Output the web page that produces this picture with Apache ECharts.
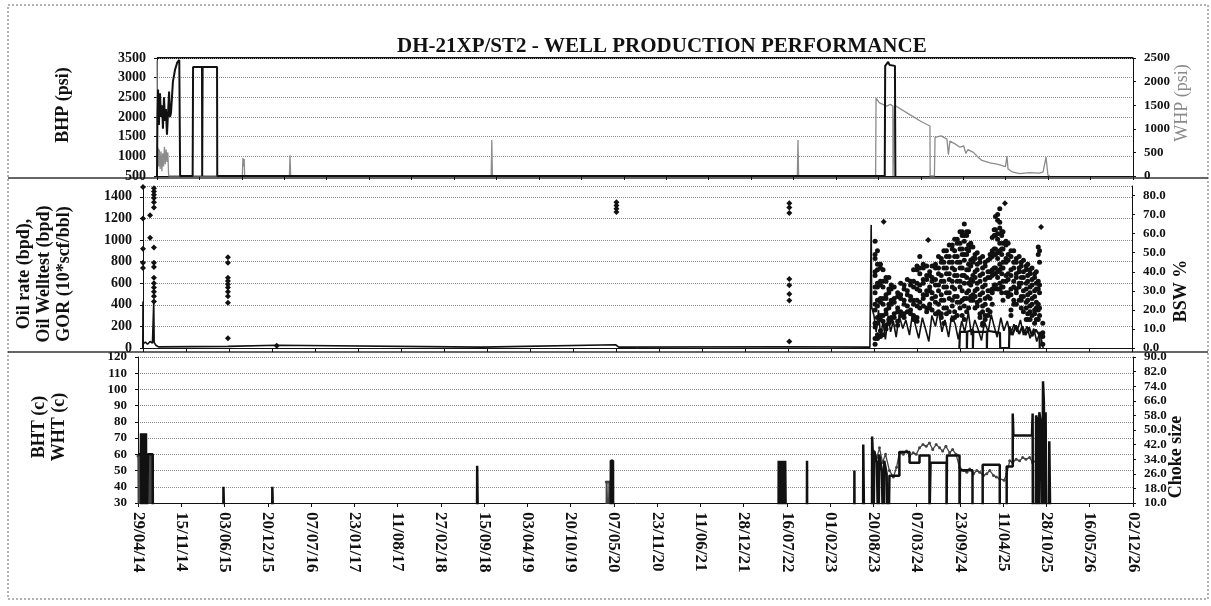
<!DOCTYPE html>
<html>
<head>
<meta charset="utf-8">
<title>DH-21XP/ST2 - WELL PRODUCTION PERFORMANCE</title>
<script src="https://cdn.jsdelivr.net/npm/echarts@6/dist/echarts.min.js"></script>
<style>
  html, body { margin: 0; padding: 0; background: #fff; }
  #main { width: 1211px; height: 606px; }
</style>
</head>
<body>
<div id="main"></div>
<script>
// ---- x axis: dates, one tick every 200 days from 29/04/14 ----
var startDate = '2014-04-29';
var tickDays = 200;
var endDays = 4600;

// ---- top panel: BHP (psi, left) and WHP (psi, right) ----
var bhpData = [
  ['2014-04-29', 500], ['2014-05-01', 2000], ['2014-05-04', 2700], ['2014-05-08', 1800], ['2014-05-13', 2600],
  ['2014-05-18', 2000], ['2014-05-23', 2300], ['2014-05-27', 1700], ['2014-06-01', 2500], ['2014-06-06', 1900],
  ['2014-06-10', 2200], ['2014-06-15', 1550], ['2014-06-20', 2100], ['2014-06-25', 2650], ['2014-06-29', 2000],
  ['2014-07-04', 2100], ['2014-07-09', 2050], ['2014-07-13', 2900], ['2014-07-23', 3200], ['2014-08-02', 3380],
  ['2014-08-12', 3450], ['2014-08-15', 3480], ['2014-08-16', 500], ['2014-10-14', 500], ['2014-10-16', 3270],
  ['2014-11-27', 3270], ['2014-11-28', 500], ['2014-11-30', 3270], ['2015-02-06', 3270], ['2015-02-07', 500],
  ['2023-09-19', 500], ['2023-09-21', 3300], ['2023-10-05', 3400], ['2023-10-12', 3320], ['2023-11-06', 3300],
  ['2023-11-08', 500]
];
var whpData = [
  ['2014-04-29', 2450], ['2014-05-01', 300], ['2014-05-04', 600], ['2014-05-07', 200], ['2014-05-10', 560],
  ['2014-05-14', 150], ['2014-05-18', 520], ['2014-05-22', 100], ['2014-05-26', 480], ['2014-05-30', 200],
  ['2014-06-03', 620], ['2014-06-07', 250], ['2014-06-11', 560], ['2014-06-15', 300], ['2014-06-19', 500],
  ['2014-06-23', 0],
  ['2015-06-05', 0], ['2015-06-08', 380], ['2015-06-11', 200], ['2015-06-14', 360], ['2015-06-16', 0],
  ['2016-01-13', 0], ['2016-01-16', 440], ['2016-01-19', 0],
  ['2018-08-21', 0], ['2018-08-24', 760], ['2018-08-27', 0],
  ['2022-08-03', 0], ['2022-08-06', 760], ['2022-08-09', 0],
  ['2023-08-07', 0], ['2023-08-09', 1650], ['2023-08-25', 1550], ['2023-09-29', 1480], ['2023-10-15', 1520],
  ['2023-10-27', 1480], ['2023-10-28', 0], ['2023-11-02', 0], ['2023-11-04', 1500], ['2024-01-15', 1300],
  ['2024-03-10', 1150], ['2024-04-19', 1060], ['2024-04-20', 0], ['2024-05-10', 0], ['2024-05-13', 820],
  ['2024-06-10', 850], ['2024-07-08', 780], ['2024-07-15', 450], ['2024-07-22', 740], ['2024-08-15', 680],
  ['2024-09-08', 610], ['2024-09-25', 640], ['2024-10-05', 480], ['2024-10-15', 560], ['2024-11-10', 500],
  ['2024-11-27', 420], ['2024-12-20', 330], ['2025-01-27', 280], ['2025-03-01', 250], ['2025-04-10', 200],
  ['2025-04-17', 420], ['2025-04-22', 150], ['2025-05-15', 80], ['2025-06-17', 50], ['2025-08-01', 70],
  ['2025-09-15', 60], ['2025-10-04', 80], ['2025-10-18', 400], ['2025-10-27', 20], ['2025-11-05', 0]
];

// ---- middle panel: oil rate, oil welltest, GOR (left) and BSW % (right) ----
var oilRateData = [
  ['2014-04-28', 0], ['2014-04-29', 430], ['2014-04-30', 40], ['2014-05-10', 55], ['2014-05-20', 35],
  ['2014-06-01', 60], ['2014-06-12', 45], ['2014-06-18', 430], ['2014-06-20', 50], ['2014-06-28', 25],
  ['2014-07-10', 10], ['2015-05-29', 15], ['2016-01-11', 25], ['2016-01-20', 8], ['2018-08-20', 8],
  ['2020-05-05', 30], ['2020-05-12', 25], ['2020-05-20', 8], ['2022-07-20', 12], ['2023-08-01', 8],
  ['2023-08-07', 1140], ['2023-08-09', 380], ['2023-08-20', 300], ['2023-08-30', 150], ['2023-09-10', 350],
  ['2023-09-20', 100], ['2023-10-01', 250], ['2023-10-12', 80], ['2023-10-25', 300], ['2023-11-05', 150],
  ['2023-11-18', 250], ['2023-12-01', 100], ['2023-12-15', 300], ['2024-01-01', 180], ['2024-01-15', 260],
  ['2024-02-01', 120], ['2024-02-15', 320], ['2024-03-01', 200], ['2024-03-15', 90], ['2024-04-01', 280],
  ['2024-04-15', 180], ['2024-05-01', 60], ['2024-05-15', 300], ['2024-06-01', 200], ['2024-06-15', 350],
  ['2024-07-01', 150], ['2024-07-15', 260], ['2024-08-01', 100], ['2024-08-15', 300], ['2024-09-01', 220],
  ['2024-09-15', 80], ['2024-10-01', 250], ['2024-10-15', 150], ['2024-11-01', 330], ['2024-11-15', 120],
  ['2024-12-01', 260], ['2024-12-15', 180], ['2025-01-01', 70], ['2025-01-15', 240], ['2025-02-01', 150],
  ['2025-02-15', 310], ['2025-03-01', 200], ['2025-03-15', 100], ['2025-04-01', 280], ['2025-04-15', 160],
  ['2025-05-01', 250], ['2025-05-15', 120], ['2025-06-01', 220], ['2025-06-15', 150], ['2025-07-01', 260],
  ['2025-07-15', 120], ['2025-08-01', 200], ['2025-08-15', 90], ['2025-09-01', 180], ['2025-09-15', 60],
  ['2025-10-01', 150], ['2025-10-10', 40], ['2025-10-15', 0]
];
var oilWelltestData = [
  ['2024-09-20', 0], ['2024-09-23', 150], ['2024-10-25', 150], ['2024-10-25', 0], ['2024-10-27', 150],
  ['2024-11-22', 170], ['2024-11-22', 0], ['2024-11-24', 150], ['2025-01-26', 150], ['2025-01-26', 0],
  ['2025-01-28', 160], ['2025-03-28', 140], ['2025-03-29', 0], ['2025-05-09', 0], ['2025-05-11', 200],
  ['2025-05-25', 120], ['2025-06-10', 210], ['2025-06-25', 130], ['2025-07-10', 200], ['2025-07-25', 120],
  ['2025-08-10', 190], ['2025-08-25', 110], ['2025-09-10', 170], ['2025-09-28', 120], ['2025-09-29', 0]
];
// GOR readings, grouped by date
var gorData = [
  ['2014-04-29', [1490, 1200, 920, 790, 740]],
  ['2014-06-01', [1230, 1020]],
  ['2014-06-19', [1480, 1450, 1420, 1390, 1350, 1300, 930, 790, 750, 650, 600, 560, 520, 480, 430]],
  ['2015-05-29', [840, 790, 650, 620, 590, 560, 520, 480, 420, 90]],
  ['2016-01-11', [20]],
  ['2020-05-09', [1350, 1320, 1290, 1260]],
  ['2022-07-22', [1340, 1300, 1250, 640, 580, 500, 440, 60]],
  ['2023-10-04', [1170]],
  ['2024-04-28', [1000]],
  ['2025-04-20', [1340]],
  ['2025-10-05', [1120]]
];
// BSW % readings, grouped by date
var bswData = [
  ['2023-08-25', [56, 49, 47, 40, 38, 32, 29, 23, 20, 13, 11, 5, 2]],
  ['2023-09-05', [51, 44, 41, 34, 32, 25, 22, 16, 13, 7, 5]],
  ['2023-09-19', [44, 42, 35, 33, 26, 24, 17, 15, 9, 6]],
  ['2023-10-01', [41, 35, 32, 26, 23, 17, 14, 7]],
  ['2023-10-15', [37, 35, 28, 26, 20, 18, 12, 10]],
  ['2023-10-28', [37, 31, 29, 23, 21, 15, 13]],
  ['2023-11-08', [33, 31, 25, 23, 16, 14]],
  ['2023-11-22', [32, 26, 24, 18, 16]],
  ['2023-12-08', [29, 27, 21, 19, 14, 12]],
  ['2023-12-22', [34, 28, 26, 19, 17]],
  ['2024-01-07', [33, 31, 25, 23, 18, 16]],
  ['2024-01-22', [36, 30, 28, 22, 19]],
  ['2024-02-06', [35, 33, 27, 25, 20, 18]],
  ['2024-02-20', [41, 35, 32, 25, 23, 17, 15]],
  ['2024-03-07', [43, 41, 34, 31, 25, 22, 16, 14]],
  ['2024-03-20', [48, 42, 39, 33, 30, 24, 21]],
  ['2024-04-05', [44, 42, 36, 34, 28, 26, 22]],
  ['2024-04-21', [43, 38, 36, 30, 28, 21, 19]],
  ['2024-05-05', [40, 38, 32, 30, 23, 21]],
  ['2024-05-16', [43, 37, 35, 29, 26, 20]],
  ['2024-06-01', [44, 42, 36, 33, 27, 24, 18]],
  ['2024-06-15', [48, 42, 39, 33, 30, 23, 19]],
  ['2024-06-28', [47, 45, 38, 35, 28, 25, 18, 16]],
  ['2024-07-10', [51, 45, 42, 35, 32, 25, 21, 13]],
  ['2024-07-22', [51, 48, 42, 39, 32, 29, 21, 18]],
  ['2024-08-04', [54, 48, 45, 39, 36, 29, 26, 19]],
  ['2024-08-18', [54, 52, 45, 42, 35, 32, 25, 22, 15]],
  ['2024-08-29', [57, 51, 48, 41, 38, 31, 27, 19, 16]],
  ['2024-09-10', [57, 55, 48, 45, 38, 35, 27, 24, 17]],
  ['2024-09-23', [61, 55, 52, 45, 42, 35, 32, 24, 21]],
  ['2024-10-03', [61, 59, 52, 49, 42, 38, 30, 25, 17]],
  ['2024-10-13', [65, 59, 56, 49, 46, 38, 34, 26, 22, 15]],
  ['2024-10-24', [61, 59, 52, 49, 41, 37, 29, 26, 19]],
  ['2024-11-02', [61, 54, 51, 44, 41, 34, 30, 21]],
  ['2024-11-12', [55, 53, 46, 43, 36, 33, 27, 25]],
  ['2024-11-22', [53, 47, 45, 38, 35, 28, 25]],
  ['2024-12-02', [49, 47, 40, 37, 30, 27, 21]],
  ['2024-12-12', [50, 44, 41, 34, 31, 24, 22]],
  ['2024-12-25', [47, 45, 38, 35, 28, 25, 18, 16]],
  ['2025-01-06', [48, 42, 39, 32, 29, 22, 19, 13, 12]],
  ['2025-01-18', [45, 43, 36, 33, 26, 23, 17, 15]],
  ['2025-01-31', [46, 40, 37, 30, 27, 20, 17]],
  ['2025-02-10', [49, 47, 40, 37, 30, 26, 19]],
  ['2025-02-20', [58, 51, 48, 41, 38, 31, 29, 23]],
  ['2025-03-01', [62, 59, 52, 49, 42, 39, 33, 31]],
  ['2025-03-07', [69, 62, 59, 52, 49, 42, 39, 33]],
  ['2025-03-17', [70, 67, 60, 57, 50, 47, 40, 37, 31]],
  ['2025-03-27', [73, 66, 63, 55, 51, 44, 41, 34, 31]],
  ['2025-04-05', [61, 59, 52, 49, 42, 39, 32, 29]],
  ['2025-04-11', [61, 55, 52, 45, 42, 35, 32, 25]],
  ['2025-04-25', [56, 54, 47, 45, 38, 35, 29]],
  ['2025-05-05', [55, 49, 46, 39, 36, 29, 27]],
  ['2025-05-18', [51, 48, 41, 38, 31, 28, 20, 17]],
  ['2025-05-31', [51, 45, 42, 35, 32, 25, 23]],
  ['2025-06-12', [47, 45, 39, 37, 31, 29, 23]],
  ['2025-06-25', [48, 42, 40, 34, 32, 25]],
  ['2025-07-05', [45, 43, 37, 34, 27, 25, 21]],
  ['2025-07-15', [46, 40, 37, 30, 27, 19]],
  ['2025-07-28', [43, 41, 34, 31, 24, 21, 15]],
  ['2025-08-04', [44, 38, 35, 28, 25, 18, 15]],
  ['2025-08-15', [41, 39, 32, 29, 22, 19, 15]],
  ['2025-08-24', [42, 36, 33, 26, 23, 17]],
  ['2025-09-05', [39, 37, 30, 27, 20, 18, 13]],
  ['2025-09-13', [40, 34, 31, 24, 21, 15]],
  ['2025-09-22', [53, 49, 35, 31, 23, 20, 15]],
  ['2025-09-28', [51, 45, 33, 29, 21, 17]],
  ['2025-10-13', [13, 8, 6, 2]]
];

// ---- bottom panel: BHT / WHT (c, left) and choke size (right) ----
var bhtData = [
  ['2014-04-29', 60], ['2014-05-12', 60], ['2014-05-13', 73], ['2014-05-16', 0], ['2014-05-19', 73],
  ['2014-05-22', 0], ['2014-05-25', 73], ['2014-05-28', 0], ['2014-05-31', 73], ['2014-06-03', 0],
  ['2014-06-05', 73], ['2014-06-06', 0], ['2014-06-13', 0], ['2014-06-14', 60], ['2014-07-06', 60],
  ['2014-07-07', 0],
  ['2015-05-28', 0], ['2015-05-29', 40], ['2015-06-04', 40], ['2015-06-05', 0],
  ['2016-01-09', 0], ['2016-01-10', 40], ['2016-01-16', 40], ['2016-01-17', 0],
  ['2018-08-13', 0], ['2018-08-14', 53], ['2018-08-18', 53], ['2018-08-19', 0],
  ['2020-04-22', 0], ['2020-04-23', 56], ['2020-05-03', 56], ['2020-05-04', 0],
  ['2022-06-07', 0], ['2022-06-08', 56], ['2022-06-12', 0], ['2022-06-14', 56], ['2022-06-20', 0],
  ['2022-06-22', 56], ['2022-06-28', 0], ['2022-06-30', 56], ['2022-07-06', 0], ['2022-07-08', 56],
  ['2022-07-11', 56], ['2022-07-12', 0],
  ['2022-10-16', 0], ['2022-10-17', 56], ['2022-10-18', 0],
  ['2023-05-23', 0], ['2023-05-24', 50], ['2023-05-25', 0],
  ['2023-07-03', 0], ['2023-07-04', 66], ['2023-07-08', 66], ['2023-07-09', 0],
  ['2023-08-13', 0], ['2023-08-14', 71], ['2023-08-17', 60], ['2023-08-20', 0], ['2023-08-24', 62],
  ['2023-09-05', 55], ['2023-09-12', 0], ['2023-09-16', 60], ['2023-09-28', 50], ['2023-10-05', 0],
  ['2023-10-09', 56], ['2023-10-20', 48], ['2023-10-24', 0],
  ['2025-09-08', 0], ['2025-09-10', 84], ['2025-09-18', 80], ['2025-09-22', 0], ['2025-09-25', 86],
  ['2025-10-03', 78], ['2025-10-08', 0], ['2025-10-12', 105], ['2025-10-16', 92], ['2025-10-20', 0],
  ['2025-10-24', 86], ['2025-10-28', 0], ['2025-11-08', 0], ['2025-11-10', 68], ['2025-11-14', 68],
  ['2025-11-16', 0]
];
var whtData = [
  ['2014-04-29', 59], ['2014-05-01', 0], ['2014-05-03', 59], ['2014-05-05', 0], ['2014-05-07', 59],
  ['2014-05-09', 0], ['2014-05-11', 59], ['2014-05-12', 0],
  ['2014-06-14', 59], ['2014-06-16', 0], ['2014-06-18', 59], ['2014-06-20', 0], ['2014-06-23', 59],
  ['2014-06-25', 0], ['2014-06-28', 59], ['2014-06-30', 0], ['2014-07-03', 59], ['2014-07-05', 0],
  ['2020-04-01', 0], ['2020-04-02', 43], ['2020-04-06', 0], ['2020-04-10', 43], ['2020-04-14', 0],
  ['2020-04-18', 43], ['2020-04-22', 0],
  ['2023-08-18', 0], ['2023-08-20', 62], ['2023-09-05', 58], ['2023-09-17', 64], ['2023-10-01', 55],
  ['2023-10-15', 60], ['2023-11-02', 50], ['2023-11-20', 46], ['2023-12-05', 52], ['2023-12-18', 61],
  ['2024-01-05', 60], ['2024-01-20', 62], ['2024-02-03', 59], ['2024-02-20', 61], ['2024-03-05', 60],
  ['2024-03-20', 64], ['2024-04-05', 66], ['2024-04-20', 65], ['2024-05-05', 67], ['2024-05-20', 63],
  ['2024-06-05', 66], ['2024-06-21', 64], ['2024-07-05', 62], ['2024-07-20', 65], ['2024-08-06', 61],
  ['2024-08-20', 63], ['2024-09-05', 60], ['2024-09-21', 52], ['2024-10-10', 50], ['2024-10-25', 49],
  ['2024-11-07', 51], ['2024-11-25', 48], ['2024-12-10', 50], ['2024-12-23', 49], ['2025-01-10', 47],
  ['2025-01-25', 48], ['2025-02-08', 50], ['2025-02-25', 47], ['2025-03-10', 46], ['2025-03-26', 45],
  ['2025-04-15', 44], ['2025-04-27', 48], ['2025-05-11', 56], ['2025-05-25', 55], ['2025-06-10', 57],
  ['2025-06-26', 56], ['2025-07-10', 58], ['2025-07-25', 57], ['2025-08-11', 58], ['2025-08-25', 55],
  ['2025-09-10', 56], ['2025-09-27', 0]
];
var chokeData = [
  ['2023-10-30', 0], ['2023-11-02', 25], ['2023-12-18', 25], ['2023-12-18', 38], ['2024-02-03', 38],
  ['2024-02-03', 32], ['2024-03-20', 32], ['2024-03-20', 36], ['2024-05-05', 36], ['2024-05-05', 0],
  ['2024-05-10', 0], ['2024-05-10', 32], ['2024-07-23', 32], ['2024-07-23', 0], ['2024-07-25', 36],
  ['2024-09-21', 36], ['2024-09-21', 0], ['2024-09-23', 28], ['2024-11-20', 28], ['2024-11-20', 0],
  ['2025-01-06', 0], ['2025-01-06', 31], ['2025-03-26', 31], ['2025-03-26', 0], ['2025-04-27', 0],
  ['2025-04-27', 30], ['2025-05-25', 30], ['2025-05-25', 59], ['2025-05-28', 47], ['2025-08-22', 47],
  ['2025-08-25', 59], ['2025-08-26', 0]
];
var chokeMin = 10;

// ---- helpers ----
var T0 = Date.parse(startDate);
function dayOf(s) { return (Date.parse(s) - T0) / 864e5; }
function pts(arr) { return arr.map(function (p) { return [dayOf(p[0]), p[1]]; }); }
function cols(arr) {
  var out = [];
  arr.forEach(function (c) {
    c[1].forEach(function (v) { out.push([dayOf(c[0]), v]); });
  });
  return out;
}
function pad(n) { return n < 10 ? '0' + n : '' + n; }
function fmtDay(v) {
  var d = new Date(T0 + v * 864e5);
  return pad(d.getUTCDate()) + '/' + pad(d.getUTCMonth() + 1) + '/' + String(d.getUTCFullYear()).slice(2);
}
function plain(v) { return String(v); }

var serif = "'Liberation Serif', 'Times New Roman', serif";
var black = '#111';

function xAxisFor(grid, showLabels) {
  return {
    type: 'value', gridIndex: grid, min: 0, max: endDays, interval: tickDays,
    axisLine: { onZero: false, lineStyle: { color: black, width: 1 } },
    axisTick: { show: true, length: 4, lineStyle: { color: black } },
    splitLine: { show: false },
    axisLabel: showLabels ? {
      rotate: -90, margin: 9, formatter: fmtDay,
      fontFamily: serif, fontWeight: 'bold', fontSize: 17, color: black
    } : { show: false }
  };
}
function yAxisFor(grid, side, min, max, interval, fmt, split, size) {
  return {
    type: 'value', gridIndex: grid, position: side, min: min, max: max, interval: interval,
    axisLine: { show: true, onZero: false, lineStyle: { color: black, width: 1 } },
    axisTick: { show: true, length: 3, lineStyle: { color: black } },
    splitLine: split ? { show: true, lineStyle: { color: '#8a8a8a', type: 'dotted', width: 1 } } : { show: false },
    axisLabel: {
      margin: 11, formatter: fmt || plain, showMaxLabel: (max - min) % interval === 0,
      fontFamily: serif, fontWeight: 'bold', fontSize: size || 13, color: black
    }
  };
}

function axisName(text, x, y, color, weight) {
  return {
    type: 'text', x: x, y: y, rotation: Math.PI / 2, silent: true,
    style: {
      text: text, fill: color || black, font: (weight || 'bold') + ' 18px ' + serif,
      textAlign: 'center', textVerticalAlign: 'middle', align: 'center', verticalAlign: 'middle',
      lineHeight: 20
    }
  };
}

var option = {
  animation: false,
  backgroundColor: '#fff',
  title: {
    text: 'DH-21XP/ST2 - WELL PRODUCTION PERFORMANCE',
    left: 392, top: 31,
    textStyle: { fontFamily: serif, fontWeight: 'bold', fontSize: 21, color: black }
  },
  grid: [
    { left: 157, right: 78, top: 58, height: 118 },
    { left: 143, right: 79, top: 186, height: 162 },
    { left: 138, right: 78, top: 357, height: 146 }
  ],
  xAxis: [xAxisFor(0, false), xAxisFor(1, false), xAxisFor(2, true)],
  yAxis: [
    yAxisFor(0, 'left', 500, 3500, 500, null, true, 14),
    yAxisFor(0, 'right', 0, 2500, 500, null, false, 13),
    yAxisFor(1, 'left', 0, 1500, 200, null, true, 14),
    yAxisFor(1, 'right', 0, 85, 10, function (v) { return v.toFixed(1); }, false, 13),
    yAxisFor(2, 'left', 30, 120, 10, null, true, 13),
    yAxisFor(2, 'right', 0, 80, 8, function (v) { return (v + chokeMin).toFixed(1); }, false, 13)
  ],
  graphic: [
    { type: 'rect', silent: true, shape: { x: 8, y: 5, width: 1200, height: 594 },
      style: { fill: 'none', stroke: '#666', lineWidth: 1, lineDash: [2, 2] } },
    { type: 'line', silent: true, shape: { x1: 8, y1: 178, x2: 1208, y2: 178 },
      style: { stroke: '#333', lineWidth: 1.5 } },
    { type: 'line', silent: true, shape: { x1: 8, y1: 352, x2: 1208, y2: 352 },
      style: { stroke: '#333', lineWidth: 1.5 } },
    { type: 'line', silent: true, shape: { x1: 157, y1: 58, x2: 1133, y2: 58 },
      style: { stroke: black, lineWidth: 2 } },
    axisName('BHP (psi)', 63, 105),
    axisName('WHP (psi)', 1182, 103, '#8a8a8a', 'normal'),
    axisName('Oil rate (bpd),\nOil Welltest (bpd)\nGOR (10*scf/bbl)', 44, 274),
    axisName('BSW %', 1181, 291),
    axisName('BHT (c)\nWHT (c)', 49, 427),
    axisName('Choke size', 1176, 457)
  ],
  series: [
    { name: 'BHP (psi)', type: 'line', xAxisIndex: 0, yAxisIndex: 0, data: pts(bhpData),
      showSymbol: false, lineStyle: { color: black, width: 2 }, z: 3 },
    { name: 'WHP (psi)', type: 'line', xAxisIndex: 0, yAxisIndex: 1, data: pts(whpData),
      showSymbol: false, lineStyle: { color: '#8c8c8c', width: 1.3 }, z: 2 },

    { name: 'Oil rate (bpd)', type: 'line', xAxisIndex: 1, yAxisIndex: 2, data: pts(oilRateData),
      showSymbol: false, lineStyle: { color: black, width: 1.6 }, z: 3 },
    { name: 'Oil Welltest (bpd)', type: 'line', xAxisIndex: 1, yAxisIndex: 2, data: pts(oilWelltestData),
      showSymbol: false, lineStyle: { color: black, width: 2.2 }, z: 4 },
    { name: 'GOR (10*scf/bbl)', type: 'scatter', xAxisIndex: 1, yAxisIndex: 2, data: cols(gorData),
      symbol: 'diamond', symbolSize: 6, itemStyle: { color: black, opacity: 1 }, z: 5 },
    { name: 'BSW %', type: 'scatter', xAxisIndex: 1, yAxisIndex: 3, data: cols(bswData),
      symbol: 'circle', symbolSize: 5, itemStyle: { color: black, opacity: 1 }, z: 3 },

    { name: 'BHT (c)', type: 'line', xAxisIndex: 2, yAxisIndex: 4, data: pts(bhtData),
      showSymbol: false, lineStyle: { color: black, width: 2.5 }, z: 4 },
    { name: 'WHT (c)', type: 'line', xAxisIndex: 2, yAxisIndex: 4, data: pts(whtData),
      symbol: 'circle', symbolSize: 3, showAllSymbol: true,
      lineStyle: { color: '#444', width: 1.3 }, itemStyle: { color: '#444' }, z: 3 },
    { name: 'Choke size', type: 'line', xAxisIndex: 2, yAxisIndex: 5,
      data: chokeData.map(function (p) { return [dayOf(p[0]), p[1] - chokeMin]; }),
      showSymbol: false, lineStyle: { color: black, width: 2.5 }, z: 4 }
  ]
};

var myChart = echarts.init(document.getElementById('main'));
myChart.setOption(option);
</script>
</body>
</html>
